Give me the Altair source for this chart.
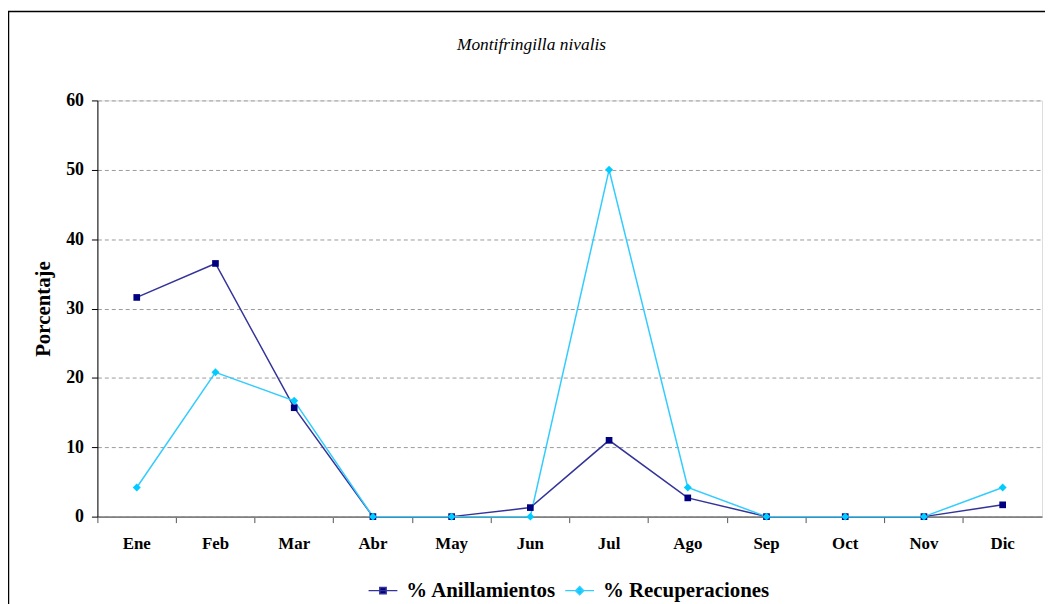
import altair as alt
import pandas as pd

months = ["Ene", "Feb", "Mar", "Abr", "May", "Jun", "Jul", "Ago", "Sep", "Oct", "Nov", "Dic"]
anill = [31.6, 36.5, 15.7, 0, 0, 1.3, 11.0, 2.7, 0, 0, 0, 1.7]
recup = [4.2, 20.8, 16.7, 0, 0, 0, 50.0, 4.2, 0, 0, 0, 4.2]
series_names = ["% Anillamientos", "% Recuperaciones"]
line_colors = ["#333399", "#33CCFF"]
marker_colors = ["#000080", "#00CCFF"]
marker_shapes = ["square", "diamond"]
marker_sizes = [45, 64]
legend_paths = ["M-1,0H1M-0.22,-0.22H0.22V0.22H-0.22Z",
                "M-1,0H1M0,-0.28L0.28,0L0,0.28L-0.28,0Z"]
y_ticks = [0, 10, 20, 30, 40, 50, 60]
title_text = "Montifringilla nivalis"

rows = []
for name, vals in zip(series_names, [anill, recup]):
    for m, v in zip(months, vals):
        rows.append({"mes": m, "serie": name, "valor": v})
df = pd.DataFrame(rows)

W, H = 951, 419
FONT = "Liberation Serif"

x_enc = alt.X(
    "mes:N", sort=months,
    scale=alt.Scale(type="band", paddingInner=0, paddingOuter=0),
    axis=alt.Axis(title=None, bandPosition=0, labelAngle=0,
                  labelFont=FONT, labelFontWeight="bold", labelFontSize=17,
                  labelColor="black", labelPadding=13, tickSize=6, tickColor="#555555",
                  tickWidth=1, domainColor="#808080", domainWidth=2, grid=False),
)
y_enc = alt.Y(
    "valor:Q",
    scale=alt.Scale(domain=[0, 60], nice=False),
    axis=alt.Axis(values=y_ticks, title="Porcentaje", grid=True, gridDash=[4, 3],
                  gridColor="#9a9a9a", gridWidth=1, domainColor="black", domainWidth=1,
                  tickColor="black", tickSize=6, labelPadding=8, labelFont=FONT,
                  labelFontWeight="bold", labelFontSize=18, labelColor="black",
                  titleFont=FONT, titleFontSize=21, titleFontWeight="bold", titleColor="black",
                  titleAngle=270, titleX=-54, titleY=H / 2, titleAlign="center",
                  titleBaseline="middle"),
)


def make_legend(i, lx):
    return alt.Legend(orient="none", legendX=lx, legendY=478, values=[series_names[i]],
                      direction="horizontal", title=None, padding=0,
                      labelFont=FONT, labelFontSize=21, labelFontWeight="bold",
                      labelColor="black", labelLimit=400, symbolSize=841,
                      symbolStrokeWidth=1.5, symbolStrokeColor=line_colors[i],
                      symbolOpacity=1, symbolType=legend_paths[i],
                      symbolFillColor=marker_colors[i], labelOffset=8)


lines = alt.Chart(df).mark_line(strokeWidth=1.5).encode(
    x=x_enc, y=y_enc,
    color=alt.Color("serie:N", scale=alt.Scale(domain=series_names, range=line_colors),
                    legend=make_legend(0, 272)),
    order=alt.Order("serie:N"),
)

point_layers = []
for i, (name, col, shp, sz) in enumerate(zip(series_names, marker_colors, marker_shapes, marker_sizes)):
    enc = dict(x=x_enc, y=y_enc)
    if i == 1:
        # reversed domain keeps this legend separate from the line legend
        enc["stroke"] = alt.Stroke("serie:N",
                                   scale=alt.Scale(domain=series_names[::-1],
                                                   range=line_colors[::-1]),
                                   legend=make_legend(1, 470))
    point_layers.append(
        alt.Chart(df).transform_filter(alt.datum.serie == name)
        .mark_point(filled=True, opacity=1, shape=shp, size=sz, fill=col, strokeWidth=0)
        .encode(**enc)
    )

frame = alt.Chart(pd.DataFrame({"a": [0]})).mark_rect(
    fill=None, stroke="black", strokeWidth=1.5
).encode(x=alt.value(-89.5), x2=alt.value(W + 200), y=alt.value(-89.5), y2=alt.value(H + 300))

title = alt.Chart(pd.DataFrame({"t": [title_text]})).mark_text(
    font=FONT, fontSize=17.5, fontStyle="italic", color="black", align="center",
    baseline="alphabetic"
).encode(text="t:N", x=alt.value(437), y=alt.value(-51))

chart = alt.layer(frame, title, lines, *point_layers).properties(
    width=W, height=H,
    padding={"left": 90, "top": 91, "right": 3, "bottom": 100},
    autosize="none",
).configure_view(stroke=None).configure_legend(
    labelFont=FONT, labelFontWeight="bold", labelLimit=400
).configure(background="white")

chart.save("out.html", embed_options={"renderer": "svg", "actions": False})
